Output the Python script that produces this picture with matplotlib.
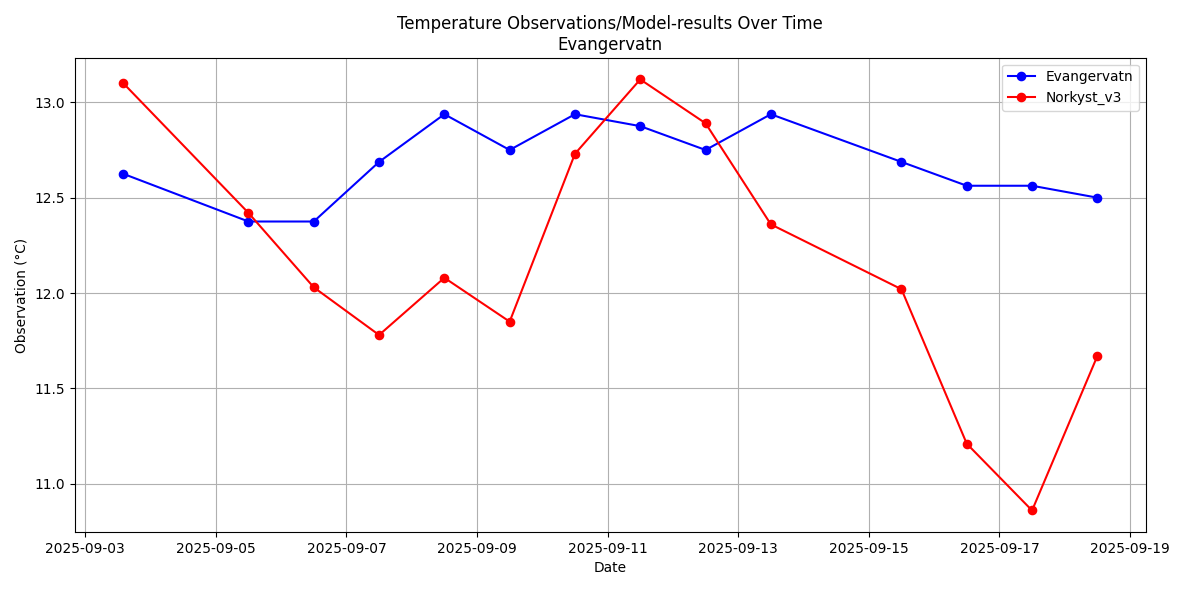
import pandas as pd
import matplotlib
matplotlib.use('Agg')
import matplotlib.pyplot as plt

dates = pd.to_datetime(['2025-09-03 14:00', '2025-09-05 12:00', '2025-09-06 12:00', '2025-09-07 12:00',
                        '2025-09-08 12:00', '2025-09-09 12:00', '2025-09-10 12:00', '2025-09-11 12:00',
                        '2025-09-12 12:00', '2025-09-13 12:00', '2025-09-15 12:00', '2025-09-16 12:00',
                        '2025-09-17 12:00', '2025-09-18 12:00'])
obs = [12.625, 12.375, 12.375, 12.6875, 12.9375, 12.75, 12.9375, 12.875, 12.75, 12.9375,
       12.6875, 12.5625, 12.5625, 12.5]
model = [13.10, 12.42, 12.03, 11.78, 12.08, 11.85, 12.73, 13.12, 12.89, 12.36,
         12.02, 11.21, 10.86, 11.67]

fig, ax = plt.subplots(figsize=(11.99, 5.96), dpi=99)
ax.plot(dates, obs, 'o-', color='blue', label='Evangervatn')
ax.plot(dates, model, 'o-', color='red', label='Norkyst_v3')
ax.set_title('Temperature Observations/Model-results Over Time\nEvangervatn')
ax.set_xlabel('Date')
ax.set_ylabel('Observation (°C)')
ax.grid(True)
ax.legend(loc='upper right')
plt.tight_layout()
fig.savefig('out.png', dpi=99)
